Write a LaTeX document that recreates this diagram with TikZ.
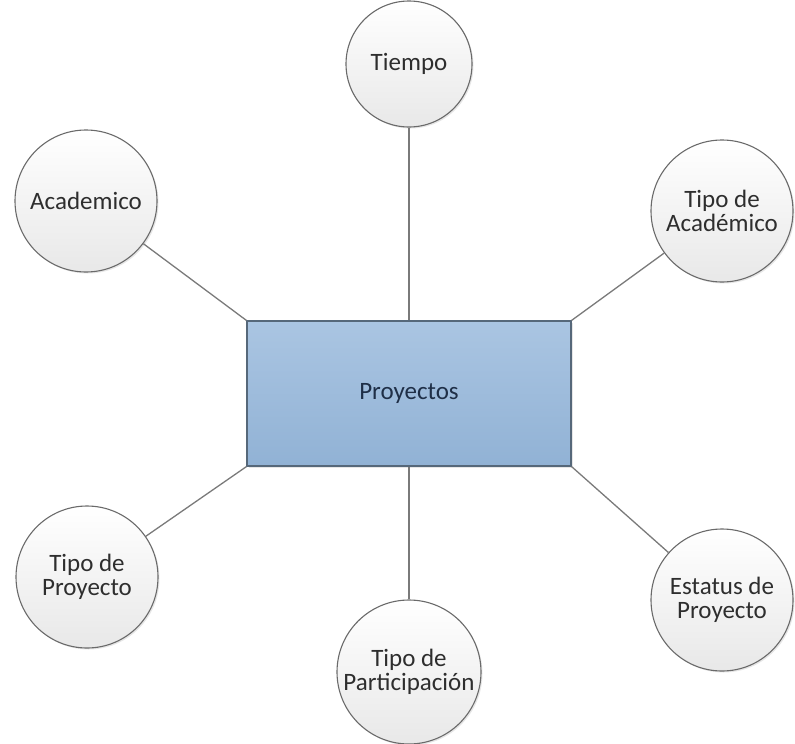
\documentclass[tikz,border=0pt]{standalone}
\usepackage{fontspec}
\setmainfont{Carlito}
\usetikzlibrary{shadows}
\definecolor{edgegray}{HTML}{7A7A7A}
\definecolor{ringgray}{HTML}{6A6A6A}
\definecolor{boxtop}{HTML}{AAC5E2}
\definecolor{boxbot}{HTML}{91B2D5}
\definecolor{boxline}{HTML}{56687A}
\definecolor{boxtext}{HTML}{1F2F47}
\definecolor{bubtext}{HTML}{2E2E2E}
\begin{document}
\begin{tikzpicture}[x=1pt,y=-1pt,
  bubble/.style={circle, draw=ringgray, line width=1.1pt, inner sep=0pt,
    top color=white, bottom color=white!91!black,
    drop shadow={shadow xshift=1.5pt, shadow yshift=-1.5pt, opacity=0.2},
    align=center, text=bubtext,
    font=\fontsize{25}{24}\selectfont},
  entity/.style={rectangle, draw=boxline, line width=1.2pt, inner sep=0pt,
    top color=boxtop, bottom color=boxbot,
    drop shadow={shadow xshift=1.5pt, shadow yshift=-1.5pt, opacity=0.2},
    text=boxtext, font=\fontsize{25}{28}\selectfont},
  link/.style={draw=edgegray, line width=1.3pt}]
  \useasboundingbox (0,0) rectangle (795,744);

  % fact table
  \node[entity, minimum width=324pt, minimum height=145pt] (proy) at (409,393.5) {Proyectos};

  % dimensions
  \node[bubble, minimum size=126pt] (tiempo) at (409,64) {Tiempo};
  \node[bubble, minimum size=142pt] (acad)   at (86,201) {Academico};
  \node[bubble, minimum size=142pt] (tacad)  at (722,211) {Tipo de\\Académico};
  \node[bubble, minimum size=142pt] (tproy)  at (87,577) {Tipo de\\Proyecto};
  \node[bubble, minimum size=142pt] (estat)  at (722,600) {Estatus de\\Proyecto};
  \node[bubble, minimum size=144pt] (tpart)  at (409,672) {Tipo de\\Participación};

  % links between the fact table and each dimension
  \draw[link] (tiempo) -- (proy.north);
  \draw[link] (acad) -- (proy.north west);
  \draw[link] (tacad) -- (proy.north east);
  \draw[link] (tproy) -- (proy.south west);
  \draw[link] (estat) -- (proy.south east);
  \draw[link] (tpart) -- (proy.south);
\end{tikzpicture}
\end{document}
